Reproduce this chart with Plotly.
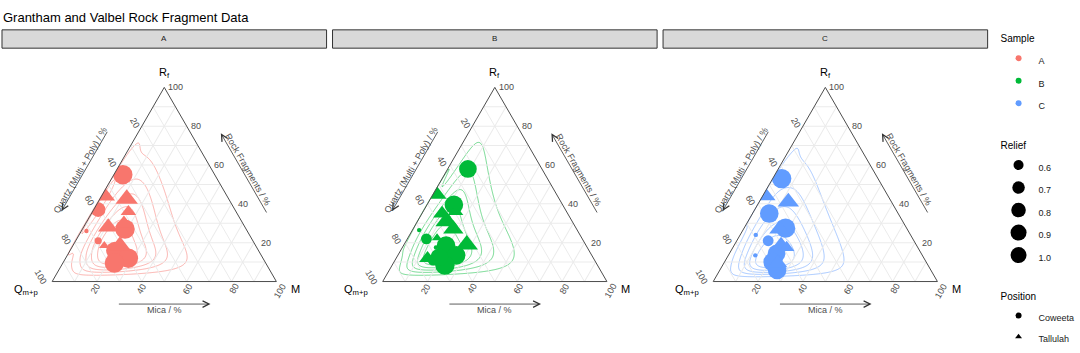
import numpy as np
import plotly.graph_objects as go

W, H = 1080, 353
SQ3 = np.sqrt(3)
FONT = "Arial, Liberation Sans, sans-serif"

samples = ["A", "B", "C"]
colors = {"A": "#F8766D", "B": "#00BA38", "C": "#619CFF"}
contour_colors = {"A": "rgba(248,118,109,0.6)", "B": "rgba(0,186,56,0.6)", "C": "rgba(97,156,255,0.6)"}
positions = ["Coweeta", "Tallulah"]
position_symbols = ["circle", "triangle-up"]
relief_breaks = [0.6, 0.7, 0.8, 0.9, 1.0]
tick_values = [20, 40, 60, 80, 100]

# ---- data (percent): Rock fragments Rf, Mica M, Position, Relief ----
# (the first four rows of each sample are overplotted by the larger markers of the bottom cluster)
A_rf = [10.5, 13, 8, 14, 55, 44, 42.5, 36, 37, 26, 28, 30, 27, 21, 18.5, 18.5, 16, 12, 9.5]
A_m = [25, 22, 24.5, 26, 4, 1.5, 12, 16, 2, 2.3, 11, 17, 19, 10, 14, 21, 20, 28, 23]
A_pos = ["Coweeta", "Coweeta", "Coweeta", "Coweeta",
         "Coweeta", "Tallulah", "Tallulah", "Tallulah", "Coweeta", "Coweeta", "Tallulah", "Tallulah",
         "Coweeta", "Coweeta", "Tallulah", "Tallulah", "Coweeta", "Coweeta", "Coweeta"]
A_relief = [0.6, 0.6, 0.6, 0.6, 1.0, 0.9, 1.0, 0.7, 0.75, 0.45, 0.9, 0.8, 1.0, 0.5, 0.55, 0.95, 0.9, 1.0, 1.0]

B_rf = [10, 9, 12, 11, 58, 45, 39.5, 36, 35, 31, 27, 26.5, 22, 22.5, 19, 18.5, 17.5, 12, 13.5, 8.5, 12.5]
B_m = [21, 25, 23, 17, 9, 1.2, 12, 14.5, 9, 13, 18, 3, 8.5, 13, 28, 19, 15, 14, 26, 23.5, 19]
B_pos = ["Coweeta", "Coweeta", "Coweeta", "Coweeta",
         "Coweeta", "Tallulah", "Coweeta", "Tallulah", "Tallulah", "Tallulah", "Tallulah", "Coweeta",
         "Coweeta", "Tallulah", "Tallulah", "Coweeta", "Coweeta", "Tallulah", "Coweeta", "Coweeta", "Coweeta"]
B_relief = [0.6, 0.6, 0.6, 0.6, 0.9, 0.95, 0.95, 0.7, 0.8, 1.0, 0.9, 0.45, 0.6, 0.55, 1.0, 0.95, 0.45, 0.75,
            0.95, 1.0, 0.9]

C_rf = [8, 11, 7, 12, 53, 44, 41, 35, 27.5, 27, 24, 21, 18.5, 17.5, 13.5, 14.5, 10, 9.5, 6]
C_m = [23, 23, 26, 20, 4, 1.5, 13, 7.5, 18.5, 16, 7, 14, 21, 24, 12, 21, 21.5, 24, 25.5]
C_pos = ["Coweeta", "Coweeta", "Coweeta", "Coweeta",
         "Coweeta", "Tallulah", "Tallulah", "Coweeta", "Coweeta", "Tallulah", "Coweeta", "Coweeta",
         "Tallulah", "Tallulah", "Coweeta", "Coweeta", "Coweeta", "Tallulah", "Coweeta"]
C_relief = [0.6, 0.6, 0.6, 0.6, 1.0, 0.85, 0.95, 0.95, 1.0, 0.9, 0.45, 0.6, 0.9, 0.7, 0.45, 0.9, 0.95, 0.85, 0.95]

data = {
    "A": (A_rf, A_m, A_pos, A_relief),
    "B": (B_rf, B_m, B_pos, B_relief),
    "C": (C_rf, C_m, C_pos, C_relief),
}
KDE_H = 0.45
LEVEL_FRACTIONS = [0.075, 0.22, 0.39, 0.57, 0.76]

# ---- layout geometry (pixels) ----
strip_x = [(2, 329), (335, 662), (668, 995)]
strip_y = (31, 50)
tri_top, tri_bot = 90.7, 292.3
tri_h = tri_bot - tri_top
tri_s = tri_h * 2 / SQ3
PT_SCALE = 1.08


def relief_size(r):
    return float(np.sqrt(max(560.0 * (r - 0.421), 9.0)))


def px2paper(px, py):
    return px / W, 1 - py / H


def tpix(i, rf, m):
    cx = (strip_x[i][0] + strip_x[i][1]) / 2
    xl = cx - tri_s / 2
    return xl + tri_s * (m + rf / 2), tri_bot - tri_h * rf


def ilr(q, rf, m):
    z1 = np.log(q / rf) / np.sqrt(2)
    z2 = np.log(np.sqrt(q * rf) / m) * np.sqrt(2 / 3)
    return z1, z2


def density_grid(q, rf, m, nx=320, h=0.5):
    xs = np.linspace(0, 1, nx)
    ys = np.linspace(0, SQ3 / 2, int(nx * SQ3 / 2))
    X, Y = np.meshgrid(xs, ys)
    RF = Y / (SQ3 / 2)
    MM = X - RF / 2
    QQ = 1 - RF - MM
    inside = (RF > 1e-6) & (MM > 1e-6) & (QQ > 1e-6)
    D = np.zeros_like(X)
    gz1, gz2 = ilr(QQ[inside], RF[inside], MM[inside])
    dz1, dz2 = ilr(q, rf, m)
    acc = np.zeros_like(gz1)
    for a, b in zip(dz1, dz2):
        acc += np.exp(-0.5 * ((gz1 - a) ** 2 + (gz2 - b) ** 2) / h ** 2)
    D[inside] = acc
    return xs, ys, D


def edge_point(i, edge, t, off):
    """point on an edge at fraction t, pushed outward by off pixels"""
    if edge == "left":
        px, py = tpix(i, t, 0)
        n = (-0.866, -0.5)
    elif edge == "right":
        px, py = tpix(i, t, 1 - t)
        n = (0.866, -0.5)
    else:
        px, py = tpix(i, 0, t)
        n = (0.0, 1.0)
    return px + n[0] * off, py + n[1] * off


fig = go.Figure()
layout = {}
annotations = []
shapes = []

for i, s in enumerate(samples):
    rf_l, m_l, pos_l, rel_l = data[s]
    rf = np.array(rf_l) / 100.0
    m = np.array(m_l) / 100.0
    q = 1 - rf - m
    sfx = "" if i == 0 else str(i + 1)
    tern = "ternary" + sfx

    x0, x1 = strip_x[i]
    cx = (x0 + x1) / 2
    ydom = [1 - tri_bot / H, 1 - tri_top / H]
    axis_common = dict(showticklabels=False, ticks="", dtick=10, tick0=0,
                       gridcolor="#EBEBEB", gridwidth=1, linecolor="#4D4D4D", linewidth=1, min=0,
                       title=dict(text=""))
    layout[tern] = dict(domain=dict(x=[x0 / W, x1 / W], y=ydom), sum=100,
                        bgcolor="rgba(0,0,0,0)",
                        aaxis=axis_common, baxis=axis_common, caxis=axis_common)
    layout["xaxis" + sfx] = dict(domain=[(cx - tri_s / 2) / W, (cx + tri_s / 2) / W], range=[0, 1],
                                 visible=False, fixedrange=True, anchor="y" + sfx)
    layout["yaxis" + sfx] = dict(domain=ydom, range=[0, SQ3 / 2], visible=False, fixedrange=True,
                                 anchor="x" + sfx)

    # density contours (computed from the points, in ilr space)
    xs, ys, D = density_grid(q, rf, m, h=KDE_H)
    mx = D.max()
    fr = LEVEL_FRACTIONS
    cc = contour_colors[s]
    fig.add_trace(go.Contour(x=xs, y=ys, z=D, xaxis="x" + sfx, yaxis="y" + sfx, showscale=False,
                             hoverinfo="skip", colorscale=[[0, cc], [1, cc]],
                             contours=dict(coloring="lines", start=fr[0] * mx, end=fr[-1] * mx,
                                           size=(fr[-1] - fr[0]) / 4 * mx),
                             line=dict(width=0.9, smoothing=1), showlegend=False))

    for pos, sym in zip(positions, position_symbols):
        idx = [k for k, p in enumerate(pos_l) if p == pos]
        fig.add_trace(go.Scatterternary(
            a=[rf_l[k] for k in idx], b=[100 - rf_l[k] - m_l[k] for k in idx], c=[m_l[k] for k in idx],
            mode="markers", subplot=tern, showlegend=False, hoverinfo="skip",
            marker=dict(symbol=sym, size=[PT_SCALE * relief_size(rel_l[k]) for k in idx], color=colors[s],
                        line=dict(width=0), opacity=1)))

    # facet strip
    shapes.append(dict(type="rect", xref="paper", yref="paper", x0=x0 / W, x1=x1 / W,
                       y0=1 - strip_y[1] / H, y1=1 - strip_y[0] / H,
                       fillcolor="#D9D9D9", line=dict(color="#333333", width=1), layer="below"))
    annotations.append(dict(text=s, x=cx / W, y=1 - 40 / H, xref="paper", yref="paper",
                            showarrow=False, xanchor="center", yanchor="middle",
                            font=dict(size=8, color="#1A1A1A", family=FONT)))

    tick_font = dict(size=9, color="#4D4D4D", family=FONT)
    for v in tick_values:
        # right edge: Rf
        px, py = tpix(i, v / 100, 1 - v / 100)
        ax_, ay_ = px2paper(px + 2, py)
        annotations.append(dict(text=str(v), x=ax_, y=ay_, xref="paper", yref="paper", showarrow=False,
                                xanchor="left", yanchor="middle", font=tick_font))
        w = 5.0 * len(str(v))
        # left edge: Q
        px, py = edge_point(i, "left", 1 - v / 100, 3 + 0.42 * w)
        ax_, ay_ = px2paper(px, py)
        annotations.append(dict(text=str(v), x=ax_, y=ay_, xref="paper", yref="paper", showarrow=False,
                                xanchor="center", yanchor="middle", textangle=60, font=tick_font))
        # bottom edge: M
        px, py = edge_point(i, "bottom", v / 100, 3 + 0.433 * w)
        ax_, ay_ = px2paper(px, py)
        annotations.append(dict(text=str(v), x=ax_, y=ay_, xref="paper", yref="paper", showarrow=False,
                                xanchor="center", yanchor="middle", textangle=-60, font=tick_font))

    corner_font = dict(size=11, color="#000000", family=FONT)
    px, py = tpix(i, 1, 0)
    annotations.append(dict(text="R<sub>f</sub>", x=px / W, y=1 - (py - 15) / H, xref="paper", yref="paper",
                            showarrow=False, xanchor="center", yanchor="middle", font=corner_font))
    px, py = tpix(i, 0, 0)
    annotations.append(dict(text="Q<sub>m+p</sub>", x=(px - 9) / W, y=1 - (py + 9) / H, xref="paper",
                            yref="paper", showarrow=False, xanchor="right", yanchor="middle", font=corner_font))
    px, py = tpix(i, 0, 1)
    annotations.append(dict(text="M", x=(px + 9) / W, y=1 - (py + 8) / H, xref="paper", yref="paper",
                            showarrow=False, xanchor="left", yanchor="middle", font=corner_font))

    # arrows with axis titles
    title_font = dict(size=9, color="#4D4D4D", family=FONT)
    arrow_common = dict(text="", showarrow=True, arrowhead=5, arrowsize=1.6, arrowwidth=0.8,
                        arrowcolor="#333333", xref="paper", yref="paper", standoff=0, startstandoff=0)
    specs = [("bottom", 0.3, 0.7, 23.4, 29.7, "Mica / %", 0),
             ("left", 0.7, 0.3, 25.5, 30.5, "Quartz (Multi + Poly) / %", -60),
             ("right", 0.3, 0.7, 25.5, 30.5, "Rock Fragments / %", 60)]
    for edge, t_tail, t_head, a_off, t_off, label, ang in specs:
        hx, hy = edge_point(i, edge, t_head, a_off)
        tx, ty = edge_point(i, edge, t_tail, a_off)
        annotations.append(dict(x=hx / W, y=1 - hy / H, ax=tx - hx, ay=ty - hy, **arrow_common))
        lx, ly = edge_point(i, edge, 0.5, t_off)
        annotations.append(dict(text=label, x=lx / W, y=1 - ly / H, xref="paper", yref="paper",
                                showarrow=False, xanchor="center", yanchor="middle", textangle=ang,
                                font=title_font))


def leg_name(t):
    return f'<span style="font-size:9px">{t}</span>'


for s in samples:
    fig.add_trace(go.Scatterternary(a=[None], b=[None], c=[None], mode="markers", name=leg_name(s),
                                    subplot="ternary", marker=dict(color=colors[s], size=6, symbol="circle"),
                                    legend="legend"))
for r in relief_breaks:
    fig.add_trace(go.Scatterternary(a=[None], b=[None], c=[None], mode="markers", name=leg_name(f"{r:.1f}"),
                                    subplot="ternary", marker=dict(color="black", size=relief_size(r),
                                                                   symbol="circle"), legend="legend2"))
for pos, sym in zip(positions, position_symbols):
    fig.add_trace(go.Scatterternary(a=[None], b=[None], c=[None], mode="markers", name=leg_name(pos),
                                    subplot="ternary", marker=dict(color="black", size=6, symbol=sym),
                                    legend="legend3"))

leg_common = dict(x=1006 / W, xanchor="left", yanchor="top", font=dict(size=15, color="#1A1A1A", family=FONT),
                  itemsizing="trace", bgcolor="rgba(0,0,0,0)")
leg3_common = dict(leg_common, font=dict(size=14, color="#1A1A1A", family=FONT))
title_leg_font = dict(size=10, color="#000000", family=FONT)
fig.update_layout(
    width=W, height=H, margin=dict(l=0, r=0, t=0, b=0),
    paper_bgcolor="white", plot_bgcolor="white",
    font=dict(family=FONT),
    title=dict(text="Grantham and Valbel Rock Fragment Data", x=3 / W, xanchor="left", xref="paper",
               y=1 - 17 / H, yanchor="middle", font=dict(size=13, color="black", family=FONT)),
    legend=dict(y=1 - 30 / H, title=dict(text="Sample", font=title_leg_font), **leg_common),
    legend2=dict(y=1 - 141 / H, title=dict(text="Relief", font=title_leg_font), **leg_common),
    legend3=dict(y=1 - 298 / H, title=dict(text="Position", font=title_leg_font), **leg3_common),
    annotations=annotations, shapes=shapes, showlegend=True,
    **layout,
)

fig.write_html("out.html")
